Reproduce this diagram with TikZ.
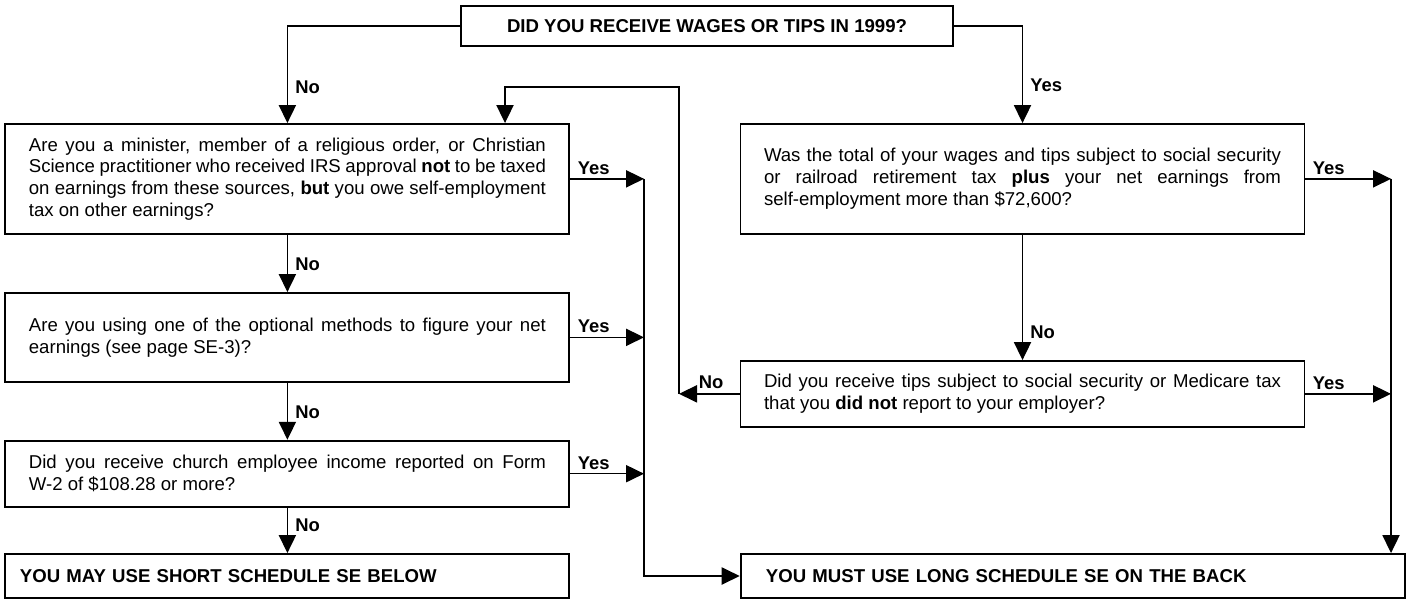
\documentclass[tikz,border=0pt]{standalone}
\usepackage{fontspec}
\setmainfont{Liberation Sans}
\usetikzlibrary{positioning,arrows.meta,calc}
\tolerance=9999
\hbadness=10000
\tikzset{plainbox/.style={
    draw, line width=0.95pt, inner ysep=2pt,
    font=\fontsize{9.3}{10.85}\selectfont
    },
  qbox/.style={plainbox, text width=258.5pt, inner xsep=11.75pt, align=justify, minimum height=#1},
  endbox/.style={plainbox, font=\fontsize{9.3}{10.85}\selectfont\bfseries, align=left, minimum height=22pt},
  vlab/.style={pos=1, anchor=base west, inner sep=0pt, xshift=3.6pt, yshift=#1, font=\fontsize{9.2}{10}\selectfont\bfseries},
  vlab/.default=10.75pt,
  hlab/.style={pos=0, anchor=base west, inner sep=0pt, xshift=3.4pt, yshift=2.2pt, font=\fontsize{9.2}{10}\selectfont\bfseries}
}
\begin{document}
\begin{tikzpicture}[>={Triangle[length=9pt,width=8.6pt]}, line width=0.65pt, x=0.5pt, y=-0.5pt]
	\useasboundingbox (0,0) rectangle (1411,599);
	\node[plainbox,font=\fontsize{9.3}{10.85}\selectfont\bfseries,minimum width=246pt,minimum height=20pt] (Q0) at (707,26) {DID YOU RECEIVE WAGES OR TIPS IN 1999?};
	\node[qbox=54.85pt] (B1) at (287.4,178.85) {Are you a minister, member of a religious order, or Christian \linebreak Science practitioner who received IRS approval \textbf{not} to be taxed \linebreak on earnings from these sources, \textbf{but} you owe self-employment \linebreak tax on other earnings?};
	\node[qbox=44.35pt] (B2) at (287.4,337.35) {Are you using one of the optional methods to figure your net \linebreak earnings (see page SE-3)?};
	\node[qbox=33pt] (B3) at (287.4,473.7) {Did you receive church employee income reported on Form \linebreak W-2 of \$108.28 or more?};
	\node[endbox,text width=267.5pt,inner xsep=7.25pt] (B4) at (287.4,576) {YOU MAY USE SHORT SCHEDULE SE BELOW};
	\node[qbox=54.85pt] (R1) at (1022.5,178.85) {Was the total of your wages and tips subject to social security \linebreak or railroad retirement tax \textbf{plus} your net earnings from \linebreak self-employment more than \$72,600?};
	\node[qbox=32.85pt] (R2) at (1022.5,393.85) {Did you receive tips subject to social security or Medicare tax \linebreak that you \textbf{did not} report to your employer?};
	\node[endbox,text width=306.9pt,inner xsep=12.65pt] (R3) at (1072.85,576) {YOU MUST USE LONG SCHEDULE SE ON THE BACK};
	\coordinate (jL) at (644,0);
	\coordinate (jR) at (1391,0);
	\coordinate (backR) at (679,87);
	\coordinate (backL) at (505,87);
	% first question
	\draw [->] (Q0.west) -| node[vlab=15pt]{No} (B1.north);
	\draw [->] (Q0.east) -| node[vlab=16pt]{Yes} (R1.north);
	% left column
	\draw [->] (B1.south) -- node[vlab]{No} (B2.north);
	\draw [->] (B2.south) -- node[vlab]{No} (B3.north);
	\draw [->] (B3.south) -- node[vlab]{No} (B4.north);
	\draw [->] (B1.east) -- node[hlab]{Yes} (B1.east -| jL);
	\draw [->] (B2.east) -- node[hlab]{Yes} (B2.east -| jL);
	\draw [->] (B3.east) -- node[hlab]{Yes} (B3.east -| jL);
	\draw [->] (B1.east -| jL) |- (R3.west);
	% right column
	\draw [->] (R1.south) -- node[vlab]{No} (R2.north);
	\draw [->] (R1.east) -- node[hlab]{Yes} (R1.east -| jR);
	\draw [->] (R2.east) -- node[hlab]{Yes} (R2.east -| jR);
	\draw [->] (R1.east -| jR) -- (R3.north -| jR);
	\draw [->] (R2.west) -- node[hlab,anchor=base east,xshift=-11.2pt,yshift=0.6pt]{No} (R2.west -| backR);
	\draw [->] (R2.west -| backR) -- (backR) -- (backL) -- (backL |- B1.north);
\end{tikzpicture}
\end{document}
